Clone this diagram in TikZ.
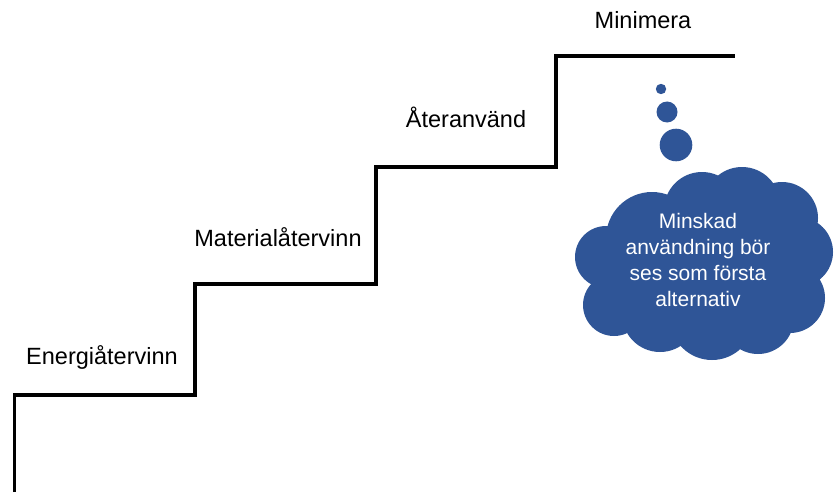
\documentclass[tikz,border=0pt]{standalone}
\usepackage{fontspec}
\setmainfont{Liberation Sans}
\definecolor{cloudblue}{RGB}{47,85,151}
\begin{document}
\begin{tikzpicture}[x=1pt,y=-1pt,
  stairline/.style={line width=3.6pt,line join=miter,line cap=butt},
  steplabel/.style={anchor=base,inner sep=0pt,font=\fontsize{23.5}{27}\selectfont},
  cloudline/.style={anchor=base,inner sep=0pt,text=white,font=\fontsize{21}{26}\selectfont},
  puff/.style={fill=cloudblue,draw=none}]
\useasboundingbox (0,0) rectangle (834,492);

% stair corners
\coordinate (s0) at (14.5,492);
\coordinate (s1) at (14.5,395);
\coordinate (s2) at (195,395);
\coordinate (s3) at (195,284);
\coordinate (s4) at (376,284);
\coordinate (s5) at (376,167);
\coordinate (s6) at (556,167);
\coordinate (s7) at (556,56);
\coordinate (s8) at (735,56);
\draw[stairline] (s0) -- (s1) -- (s2) -- (s3) -- (s4) -- (s5) -- (s6) -- (s7) -- (s8);

% step labels
\node[steplabel] (energi) at (102,364) {Energiåtervinn};
\node[steplabel] (material) at (278,246) {Materialåtervinn};
\node[steplabel] (ater) at (466,128) {Återanvänd};
\node[steplabel] (minimera) at (643,29) {Minimera};

% thought bubbles
\fill[puff] (661,89) circle (5.2);
\fill[puff] (667,112) circle (10.5);
\fill[puff] (676,145) circle (16.3);

% cloud: one path made of overlapping puffs around a central body
\fill[puff]
  (606,257) circle (31)
  (614,305) circle (31)
  (652,238) circle (46)
  (702,210) circle (38)
  (742,205) circle (38)
  (782,218) circle (36)
  (798,252) circle (35)
  (790,298) circle (35)
  (758,318) circle (36)
  (712,318) circle (42)
  (660,314) circle (38)
  (708,266) ellipse [x radius=92, y radius=64];

% cloud text, one node per line
\node[cloudline] (c1) at (698,228) {Minskad};
\node[cloudline] (c2) at (698,254) {användning bör};
\node[cloudline] (c3) at (698,280) {ses som första};
\node[cloudline] (c4) at (698,306) {alternativ};
\end{tikzpicture}
\end{document}
